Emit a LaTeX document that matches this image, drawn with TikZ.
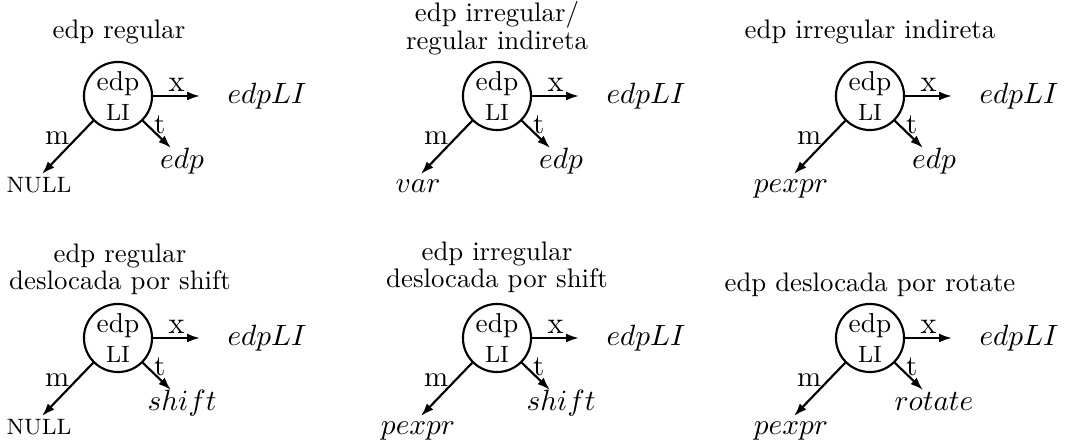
\documentclass[tikz,border=0pt]{standalone}
\usetikzlibrary{arrows.meta}
\tikzset{
  px/.style={x=0.3731pt,y=-0.3731pt},
  edpcircle/.style={circle, draw, line width=0.8pt, minimum size=25.4pt, inner sep=0pt, align=center},
  conn/.style={line width=0.8pt, -{Latex[length=4.8pt,width=3.3pt]}},
  lbl/.style={font=\fontsize{10.8}{12}\selectfont, inner sep=2.2pt},
  xlbl/.style={font=\fontsize{11.5}{12}\selectfont, inner sep=1.2pt},
  paneltitle/.style={font=\fontsize{10}{9}\selectfont, align=center, inner sep=0pt},
  tgt/.style={font=\fontsize{10.7}{12}\selectfont, inner sep=0pt},
  nulltxt/.style={font=\fontsize{8.3}{10}\selectfont, inner sep=0pt}
}
% #1 name, #2 x, #3 y, #4 m-target node style, #5 m-target text, #6 t-target text
\newcommand\edppanel[6]{%
  \node[edpcircle] (#1c) at (#2,#3) {{\fontsize{10.2}{9.3}\selectfont edp}\\[-1pt]{\fontsize{8.8}{9}\selectfont LI}};
  \coordinate (#1xe) at (#2+82,#3);
  \draw[conn] (#1c.east) -- (#1xe) node[midway, above, xlbl] (#1xl) {x};
  \node[tgt, anchor=west] (#1li) at (#2+109,#3) {$edpLI$};
  \coordinate (#1te) at (#2+53,#3+52);
  \draw[conn] (#1c.-45) -- (#1te) node[pos=0.15, right, lbl] (#1tl) {t};
  \node[tgt, anchor=base] (#1t) at (#2+64,#3+73) {$#6$};
  \coordinate (#1me) at (#2-76,#3+78);
  \draw[conn] (#1c.-135) -- (#1me) node[pos=0.33, left, lbl] (#1ml) {m};
  \node[#4, anchor=base] (#1m) at (#2-79,#3+97) {#5};
}
\begin{document}
\begin{tikzpicture}[px]
\useasboundingbox (0,0) rectangle (1069,444);
% top row
\node[paneltitle] (t1) at (119,32) {edp regular};
\edppanel{a}{118}{96}{nulltxt}{NULL}{edp}
\node[paneltitle] (t2) at (497,28) {edp irregular/\\regular indireta};
\edppanel{b}{497}{96}{tgt}{$var$}{edp}
\node[paneltitle] (t3) at (870,32) {edp irregular indireta};
\edppanel{c}{870}{96}{tgt}{$pexpr$}{edp}
% bottom row
\node[paneltitle] (t4) at (120,269) {edp regular\\deslocada por shift};
\edppanel{d}{118}{338}{nulltxt}{NULL}{shift}
\node[paneltitle] (t5) at (497,267) {edp irregular\\deslocada por shift};
\edppanel{e}{497}{338}{tgt}{$pexpr$}{shift}
\node[paneltitle] (t6) at (870,285) {edp deslocada por rotate};
\edppanel{f}{870}{338}{tgt}{$pexpr$}{rotate}
\end{tikzpicture}
\end{document}
